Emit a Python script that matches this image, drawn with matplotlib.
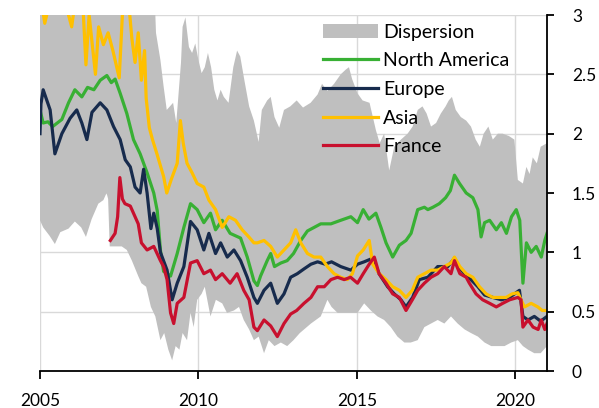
import matplotlib
matplotlib.use('Agg')
import matplotlib.pyplot as plt
from matplotlib.patches import Patch
from matplotlib.lines import Line2D
from matplotlib.ticker import FuncFormatter
import numpy as np

plt.rcParams['font.family'] = ['Lato', 'DejaVu Sans']

# dispersion band (upper / lower edge)
disp_up_x = [2005.0, 2008.6, 2008.66, 2008.8, 2008.9, 2009.0, 2009.2, 2009.3, 2009.45, 2009.5, 2009.59,
             2009.7, 2009.8, 2009.9, 2010.0, 2010.1, 2010.2, 2010.3, 2010.4, 2010.5, 2010.6, 2010.7,
             2010.8, 2010.95, 2011.1, 2011.22, 2011.32, 2011.45, 2011.6, 2011.75, 2011.9, 2012.0,
             2012.17, 2012.28, 2012.4, 2012.55, 2012.7, 2012.9, 2013.1, 2013.3, 2013.54, 2013.76,
             2013.9, 2014.07, 2014.28, 2014.49, 2014.65, 2014.75, 2014.85, 2015.02, 2015.18, 2015.4,
             2015.6, 2015.72, 2015.86, 2016.02, 2016.18, 2016.39, 2016.6, 2016.76, 2016.92, 2017.07,
             2017.2, 2017.34, 2017.5, 2017.65, 2017.8, 2017.9, 2018.0, 2018.12, 2018.28, 2018.45,
             2018.6, 2018.75, 2018.88, 2019.0, 2019.15, 2019.29, 2019.45, 2019.6, 2019.8, 2019.97,
             2020.08, 2020.24, 2020.35, 2020.45, 2020.55, 2020.68, 2020.8, 2021.0]
disp_up = [3.3, 3.3, 2.85, 2.62, 2.4, 2.2, 2.26, 2.09, 2.6, 2.9, 2.98,
           2.73, 2.68, 2.76, 2.62, 2.51, 2.56, 2.68, 2.56, 2.37, 2.28, 2.37,
           2.31, 2.26, 2.56, 2.7, 2.65, 2.45, 2.23, 2.11, 1.93, 2.2,
           2.28, 2.31, 2.14, 2.05, 2.2, 2.23, 2.28, 2.22, 2.26, 2.33,
           2.42, 2.36, 2.42, 2.5, 2.54, 2.56, 2.46, 2.34, 2.28, 2.26,
           2.03, 1.92, 2.0, 1.69, 1.89, 1.95, 2.0, 2.06, 2.2, 2.23,
           2.17, 2.06, 2.09, 2.17, 2.23, 2.28, 2.31, 2.2, 2.14, 2.11,
           2.06, 1.95, 1.89, 2.0, 2.06, 1.95, 2.0, 2.0, 1.98, 1.95,
           1.61, 1.58, 1.72, 1.66, 1.8, 1.75, 1.89, 1.92]

disp_lo_x = [2005.0, 2005.1, 2005.3, 2005.47, 2005.64, 2005.9, 2006.1, 2006.3, 2006.45, 2006.63, 2006.84,
             2007.0, 2007.1, 2007.15, 2007.2, 2007.5, 2007.58, 2007.74, 2007.9, 2008.1, 2008.2, 2008.35,
             2008.5, 2008.64, 2008.8, 2008.92, 2009.05, 2009.17, 2009.28, 2009.4, 2009.5, 2009.64,
             2009.75, 2009.85, 2009.96, 2010.1, 2010.2, 2010.38, 2010.55, 2010.75, 2010.9, 2011.12,
             2011.28, 2011.43, 2011.6, 2011.75, 2011.9, 2012.07, 2012.22, 2012.4, 2012.6, 2012.8,
             2013.0, 2013.2, 2013.55, 2013.86, 2014.07, 2014.2, 2014.39, 2014.7, 2015.02, 2015.23,
             2015.44, 2015.65, 2015.86, 2016.07, 2016.28, 2016.5, 2016.7, 2016.92, 2017.13, 2017.34,
             2017.55, 2017.76, 2017.97, 2018.18, 2018.4, 2018.6, 2018.82, 2019.03, 2019.24, 2019.66,
             2019.87, 2020.08, 2020.24, 2020.4, 2020.6, 2020.8, 2021.0]
disp_lo = [1.27, 1.21, 1.14, 1.07, 1.17, 1.2, 1.26, 1.21, 1.13, 1.28, 1.41,
           1.44, 1.5, 1.45, 1.05, 1.05, 1.05, 1.02, 0.93, 0.8, 0.74, 0.71,
           0.54, 0.46, 0.26, 0.32, 0.18, 0.09, 0.21, 0.18, 0.32, 0.26,
           0.49, 0.37, 0.6, 0.65, 0.71, 0.46, 0.6, 0.57, 0.49, 0.51,
           0.54, 0.43, 0.35, 0.26, 0.29, 0.15, 0.26, 0.21, 0.24, 0.21,
           0.26, 0.32, 0.4, 0.46, 0.6, 0.54, 0.49, 0.49, 0.49, 0.57,
           0.51, 0.46, 0.43, 0.37, 0.29, 0.24, 0.24, 0.26, 0.37, 0.4,
           0.43, 0.4, 0.46, 0.4, 0.35, 0.32, 0.29, 0.24, 0.21, 0.21,
           0.24, 0.26, 0.21, 0.18, 0.15, 0.15, 0.21]

na_x = [2005.0, 2005.1, 2005.25, 2005.4, 2005.69, 2005.9, 2006.1, 2006.32, 2006.5, 2006.7, 2006.9,
        2007.11, 2007.25, 2007.37, 2007.53, 2007.74, 2007.95, 2008.16, 2008.38, 2008.59, 2008.7,
        2008.8, 2008.9, 2009.12, 2009.33, 2009.54, 2009.75, 2009.96, 2010.17, 2010.38, 2010.54,
        2010.75, 2011.0, 2011.33, 2011.54, 2011.75, 2011.86, 2011.96, 2012.17, 2012.28, 2012.4,
        2012.6, 2012.8, 2013.0, 2013.23, 2013.44, 2013.65, 2013.86, 2014.18, 2014.49, 2014.81,
        2015.02, 2015.2, 2015.38, 2015.6, 2015.76, 2015.92, 2016.13, 2016.34, 2016.55, 2016.71,
        2016.92, 2017.13, 2017.24, 2017.4, 2017.6, 2017.8, 2017.95, 2018.08, 2018.24, 2018.45,
        2018.66, 2018.82, 2018.92, 2019.03, 2019.19, 2019.4, 2019.56, 2019.72, 2019.88, 2020.03,
        2020.14, 2020.24, 2020.35, 2020.5, 2020.66, 2020.82, 2020.93, 2021.0]
north_america = [2.2, 2.09, 2.1, 2.06, 2.12, 2.26, 2.37, 2.31, 2.39, 2.37, 2.45,
                 2.49, 2.43, 2.46, 2.34, 2.17, 1.95, 1.83, 1.67, 1.5, 1.35,
                 1.02, 0.84, 0.8, 0.99, 1.21, 1.41, 1.36, 1.25, 1.33, 1.19,
                 1.27, 1.16, 1.12, 0.96, 0.76, 0.72, 0.8, 0.93, 0.99, 0.88,
                 0.91, 0.93, 0.99, 1.1, 1.18, 1.21, 1.24, 1.24, 1.27, 1.3,
                 1.25, 1.36, 1.28, 1.33, 1.21, 1.08, 0.96, 1.06, 1.1, 1.16,
                 1.36, 1.38, 1.36, 1.38, 1.41, 1.46, 1.52, 1.65, 1.58, 1.5,
                 1.46, 1.36, 1.13, 1.25, 1.27, 1.19, 1.25, 1.16, 1.3, 1.36,
                 1.27, 0.74, 1.08, 1.0, 1.05, 0.96, 1.1, 1.16]

eu_x = [2005.0, 2005.03, 2005.1, 2005.32, 2005.47, 2005.69, 2005.95, 2006.16, 2006.32, 2006.48, 2006.64,
        2006.9, 2007.11, 2007.32, 2007.53, 2007.69, 2007.85, 2008.0, 2008.16, 2008.27, 2008.38,
        2008.5, 2008.59, 2008.7, 2008.8, 2009.01, 2009.17, 2009.33, 2009.54, 2009.75, 2009.96,
        2010.17, 2010.33, 2010.54, 2010.7, 2010.91, 2011.12, 2011.33, 2011.54, 2011.75, 2011.86,
        2012.07, 2012.28, 2012.49, 2012.7, 2012.91, 2013.12, 2013.33, 2013.55, 2013.76, 2014.0,
        2014.2, 2014.49, 2014.81, 2015.02, 2015.23, 2015.5, 2015.7, 2015.97, 2016.18, 2016.39,
        2016.55, 2016.76, 2016.97, 2017.24, 2017.55, 2017.87, 2018.08, 2018.2, 2018.4, 2018.6,
        2018.82, 2019.03, 2019.29, 2019.56, 2019.82, 2020.13, 2020.24, 2020.4, 2020.6, 2020.8, 2021.0]
europe = [2.0, 2.25, 2.37, 2.2, 1.83, 2.0, 2.13, 2.2, 2.09, 1.95, 2.18,
          2.26, 2.2, 2.06, 1.95, 1.78, 1.72, 1.55, 1.5, 1.7, 1.5,
          1.2, 1.33, 1.2, 1.0, 0.85, 0.6, 0.74, 0.88, 1.26, 1.19,
          1.02, 1.16, 0.99, 1.08, 0.96, 1.02, 0.93, 0.79, 0.62, 0.57,
          0.68, 0.74, 0.57, 0.65, 0.79, 0.82, 0.86, 0.9, 0.92, 0.9,
          0.92, 0.88, 0.85, 0.9, 0.92, 0.95, 0.82, 0.71, 0.65, 0.6,
          0.54, 0.62, 0.77, 0.79, 0.88, 0.88, 0.95, 0.88, 0.82, 0.77,
          0.71, 0.64, 0.62, 0.6, 0.62, 0.68, 0.46, 0.43, 0.46, 0.42, 0.46]

asia_x = [2005.0, 2005.15, 2005.3, 2005.7, 2006.0, 2006.15, 2006.35, 2006.45, 2006.55, 2006.75, 2006.85,
          2007.0, 2007.15, 2007.3, 2007.5, 2007.6, 2007.8, 2007.9, 2008.0, 2008.1, 2008.2,
          2008.3, 2008.35, 2008.45, 2008.55, 2008.69, 2008.9, 2009.0, 2009.15, 2009.33, 2009.43,
          2009.52, 2009.64, 2009.8, 2009.96, 2010.17, 2010.33, 2010.54, 2010.75, 2010.96, 2011.17,
          2011.38, 2011.59, 2011.75, 2011.86, 2012.07, 2012.28, 2012.49, 2012.7, 2012.91, 2013.07,
          2013.23, 2013.44, 2013.65, 2013.86, 2014.07, 2014.28, 2014.49, 2014.7, 2014.86, 2015.02,
          2015.2, 2015.39, 2015.5, 2015.71, 2015.92, 2016.13, 2016.34, 2016.55, 2016.75, 2016.92,
          2017.13, 2017.34, 2017.55, 2017.76, 2017.97, 2018.08, 2018.25, 2018.45, 2018.66, 2018.87,
          2019.08, 2019.29, 2019.5, 2019.71, 2019.9, 2020.08, 2020.18, 2020.29, 2020.5, 2020.71,
          2020.85, 2021.0]
asia = [3.2, 2.93, 3.1, 3.2, 2.9, 3.2, 3.1, 2.58, 3.0, 2.5, 2.9,
        2.75, 2.85, 2.7, 2.47, 3.0, 3.1, 2.8, 2.6, 2.85, 2.45,
        2.7, 2.3, 2.05, 1.95, 1.83, 1.64, 1.5, 1.62, 1.75, 2.11,
        1.92, 1.75, 1.67, 1.58, 1.55, 1.44, 1.36, 1.21, 1.3, 1.27,
        1.19, 1.13, 1.08, 1.08, 1.1, 1.05, 0.96, 1.02, 1.08, 1.19,
        1.08, 0.99, 0.96, 0.96, 0.88, 0.82, 0.79, 0.77, 0.82, 0.97,
        1.02, 1.1, 0.9, 0.82, 0.77, 0.71, 0.68, 0.62, 0.68, 0.79,
        0.82, 0.85, 0.85, 0.88, 0.91, 0.96, 0.88, 0.82, 0.79, 0.71,
        0.65, 0.62, 0.62, 0.62, 0.65, 0.66, 0.6, 0.54, 0.57, 0.54,
        0.51, 0.51]

fr_x = [2007.22, 2007.37, 2007.45, 2007.52, 2007.6, 2007.68, 2007.85, 2008.0, 2008.1, 2008.2, 2008.38,
        2008.59, 2008.8, 2008.9, 2009.01, 2009.12, 2009.22, 2009.33, 2009.54, 2009.75, 2009.96,
        2010.17, 2010.38, 2010.54, 2010.75, 2011.0, 2011.22, 2011.43, 2011.6, 2011.75, 2011.86,
        2012.07, 2012.28, 2012.49, 2012.7, 2012.91, 2013.1, 2013.33, 2013.55, 2013.76, 2013.97,
        2014.18, 2014.39, 2014.6, 2014.8, 2015.02, 2015.2, 2015.39, 2015.55, 2015.7, 2015.92,
        2016.13, 2016.34, 2016.55, 2016.75, 2016.92, 2017.13, 2017.34, 2017.55, 2017.76, 2017.97,
        2018.08, 2018.25, 2018.45, 2018.55, 2018.76, 2018.97, 2019.19, 2019.4, 2019.6, 2019.82,
        2020.08, 2020.18, 2020.24, 2020.4, 2020.56, 2020.72, 2020.82, 2020.93, 2021.0]
france = [1.1, 1.16, 1.3, 1.63, 1.45, 1.41, 1.39, 1.3, 1.24, 1.08, 1.02,
          1.05, 0.93, 0.88, 0.77, 0.49, 0.4, 0.57, 0.62, 0.91, 0.93,
          0.82, 0.85, 0.77, 0.82, 0.74, 0.82, 0.68, 0.6, 0.37, 0.34,
          0.43, 0.38, 0.29, 0.4, 0.48, 0.51, 0.57, 0.62, 0.71, 0.71,
          0.77, 0.79, 0.77, 0.79, 0.74, 0.82, 0.9, 0.96, 0.82, 0.74,
          0.65, 0.62, 0.51, 0.6, 0.68, 0.74, 0.79, 0.82, 0.88, 0.82,
          0.93, 0.82, 0.79, 0.74, 0.65, 0.6, 0.57, 0.54, 0.57, 0.6,
          0.62, 0.6, 0.37, 0.43, 0.37, 0.35, 0.43, 0.35, 0.4]

C_DISP = '#bfbfbf'
C_NA = '#38b034'
C_EU = '#172b4d'
C_AS = '#ffc000'
C_FR = '#c8102e'

fig = plt.figure(figsize=(5.99, 4.08), dpi=100)
ax = fig.add_axes([40/599, 1-371/408, 507/599, 356/408])

ax.fill(np.concatenate([disp_up_x, disp_lo_x[::-1]]),
        np.concatenate([disp_up, disp_lo[::-1]]), color=C_DISP, lw=0, zorder=1)
ax.plot(na_x, north_america, color=C_NA, lw=2.3, zorder=3)
ax.plot(eu_x, europe, color=C_EU, lw=2.3, zorder=3)
ax.plot(asia_x, asia, color=C_AS, lw=2.3, zorder=3)
ax.plot(fr_x, france, color=C_FR, lw=2.3, zorder=3)

ax.set_xlim(2005, 2021)
ax.set_ylim(0, 3)
ax.set_xticks([2005, 2010, 2015, 2020])
ax.set_yticks([0, 0.5, 1, 1.5, 2, 2.5, 3])
ax.yaxis.set_major_formatter(FuncFormatter(lambda v, p: '%g' % v))
ax.yaxis.tick_right()
ax.grid(True, color='#d9d9d9', lw=1, zorder=0)
ax.set_axisbelow(True)
for s in ['top', 'left']:
    ax.spines[s].set_visible(False)
for s in ['bottom', 'right']:
    ax.spines[s].set_color('black')
    ax.spines[s].set_linewidth(1.3)
    ax.spines[s].set_zorder(4)
ax.tick_params(axis='x', direction='out', length=6, width=1.3, pad=10, labelsize=12.5, colors='black')
ax.tick_params(axis='y', direction='out', length=5, width=1.3, pad=13, labelsize=12.5, colors='black')

handles = [Patch(color=C_DISP, lw=0),
           Line2D([], [], color=C_NA, lw=2.3),
           Line2D([], [], color=C_EU, lw=2.3),
           Line2D([], [], color=C_AS, lw=2.3),
           Line2D([], [], color=C_FR, lw=2.3)]
labels = ['Dispersion', 'North America', 'Europe', 'Asia', 'France']
ax.legend(handles, labels, loc='upper left', bbox_to_anchor=(307/599, 1-8/408),
          bbox_transform=fig.transFigure, frameon=False, fontsize=14,
          handlelength=2.84, handletextpad=0.26, labelspacing=0.6, borderpad=0.3)

fig.savefig('out.png', dpi=100)
